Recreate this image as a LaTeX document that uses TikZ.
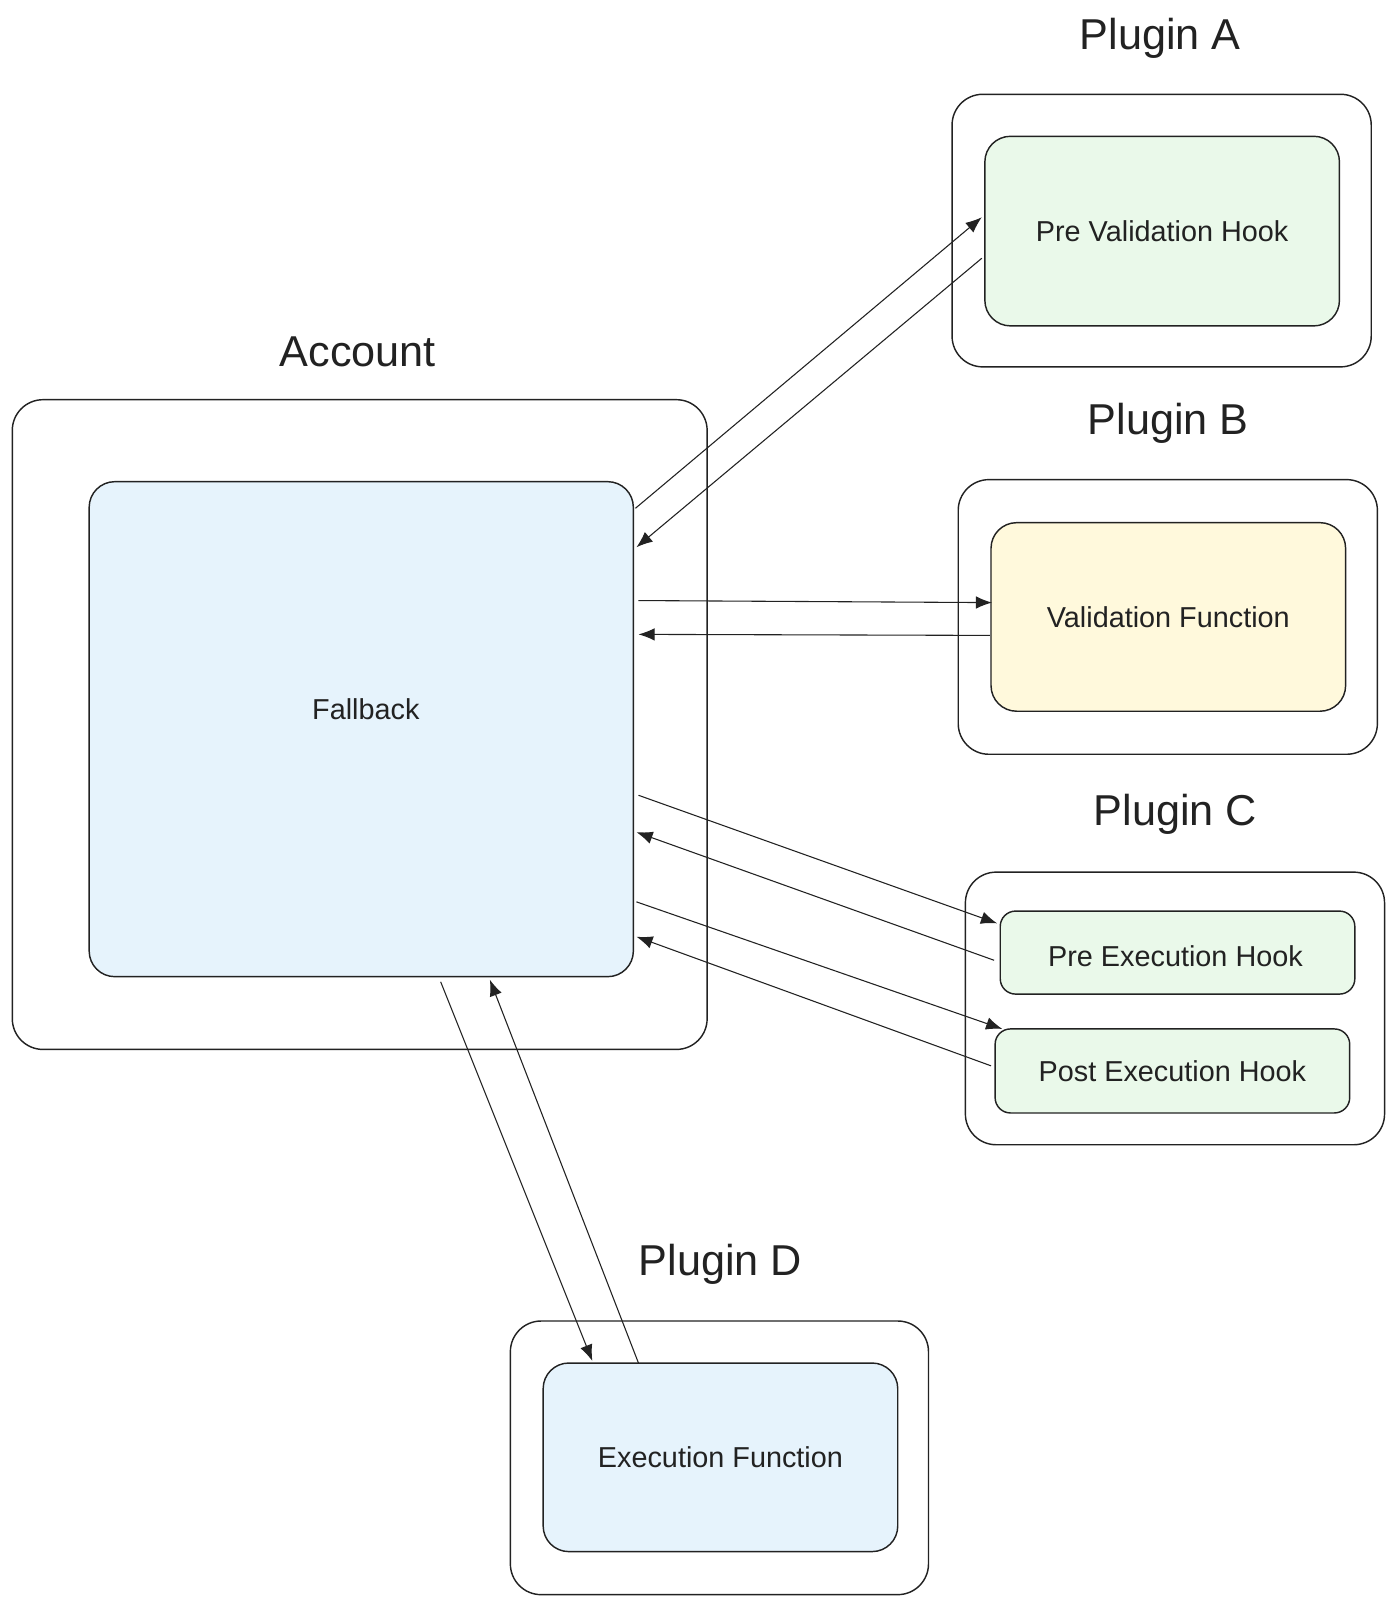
\documentclass[tikz,border=0pt]{standalone}
\usepackage{fontspec}
\setmainfont{Liberation Sans}
\usepackage{tikz}
\usetikzlibrary{arrows.meta}
\definecolor{fallbackblue}{HTML}{E6F3FC}
\definecolor{hookgreen}{HTML}{EAF9EA}
\definecolor{funcyellow}{HTML}{FFF9DC}
\definecolor{inkgray}{HTML}{222222}
\tikzset{
  outerbox/.style={draw=inkgray, line width=0.8pt, rounded corners=0.6cm},
  innerbox/.style={draw=inkgray, line width=0.8pt, rounded corners=0.5cm},
  title/.style={font=\fontsize{24}{28}\selectfont, text=inkgray},
  label/.style={font=\fontsize{16}{19}\selectfont, text=inkgray},
  arr/.style={-{Latex[length=9pt,width=7pt]}, draw=inkgray, line width=0.6pt}
}
\begin{document}
\begin{tikzpicture}[x=0.02cm, y=-0.02cm]
    \useasboundingbox (0,0) rectangle (1366,1571);
    % boxes
    \draw[outerbox] (12,390) rectangle (690,1024);
    \draw[innerbox, fill=fallbackblue] (87,470) rectangle (618,953);
    \node[label] (fb) at (357,692) {Fallback};
    \node[title] (acc) at (349,343) {Account};

    \draw[outerbox] (929,92) rectangle (1338,358);
    \draw[innerbox, fill=hookgreen] (961,133) rectangle (1307,318);
    \node[label] (pvh) at (1134,226) {Pre Validation Hook};
    \node[title] (pa) at (1132,37) {Plugin A};

    \draw[outerbox] (935,468) rectangle (1344,736);
    \draw[innerbox, fill=funcyellow] (967,510) rectangle (1313,694);
    \node[label] (vf) at (1140,602) {Validation Function};
    \node[title] (pb) at (1140,413) {Plugin B};

    \draw[outerbox] (942,851) rectangle (1351,1117);
    \draw[innerbox, rounded corners=0.3cm, fill=hookgreen] (976,889) rectangle (1322,970);
    \draw[innerbox, rounded corners=0.3cm, fill=hookgreen] (971,1004) rectangle (1317,1086);
    \node[label] (peh) at (1147,933) {Pre Execution Hook};
    \node[label] (poh) at (1144,1045) {Post Execution Hook};
    \node[title] (pc) at (1147,795) {Plugin C};

    \draw[outerbox] (498,1289) rectangle (906,1556);
    \draw[innerbox, fill=fallbackblue] (530,1330) rectangle (876,1514);
    \node[label] (ef) at (703,1422) {Execution Function};
    \node[title] (pd) at (703,1234) {Plugin D};

    % connector ends
    \coordinate (a1) at (620,496);  \coordinate (a2) at (958,212);
    \coordinate (a3) at (958,252);  \coordinate (a4) at (621,534);
    \coordinate (b1) at (623,586);  \coordinate (b2) at (968,588);
    \coordinate (b3) at (966,620);  \coordinate (b4) at (623,619);
    \coordinate (c1) at (623,776);  \coordinate (c2) at (973,901);
    \coordinate (c3) at (970,937);  \coordinate (c4) at (621,812);
    \coordinate (c5) at (621,880);  \coordinate (c6) at (978,1004);
    \coordinate (c7) at (967,1040); \coordinate (c8) at (621,914);
    \coordinate (d1) at (430,958);  \coordinate (d2) at (578,1328);
    \coordinate (d3) at (623,1330); \coordinate (d4) at (478,956);

    \draw[arr] (a1) -- (a2);
    \draw[arr] (a3) -- (a4);
    \draw[arr] (b1) -- (b2);
    \draw[arr] (b3) -- (b4);
    \draw[arr] (c1) -- (c2);
    \draw[arr] (c3) -- (c4);
    \draw[arr] (c5) -- (c6);
    \draw[arr] (c7) -- (c8);
    \draw[arr] (d1) -- (d2);
    \draw[arr] (d3) -- (d4);
\end{tikzpicture}
\end{document}
